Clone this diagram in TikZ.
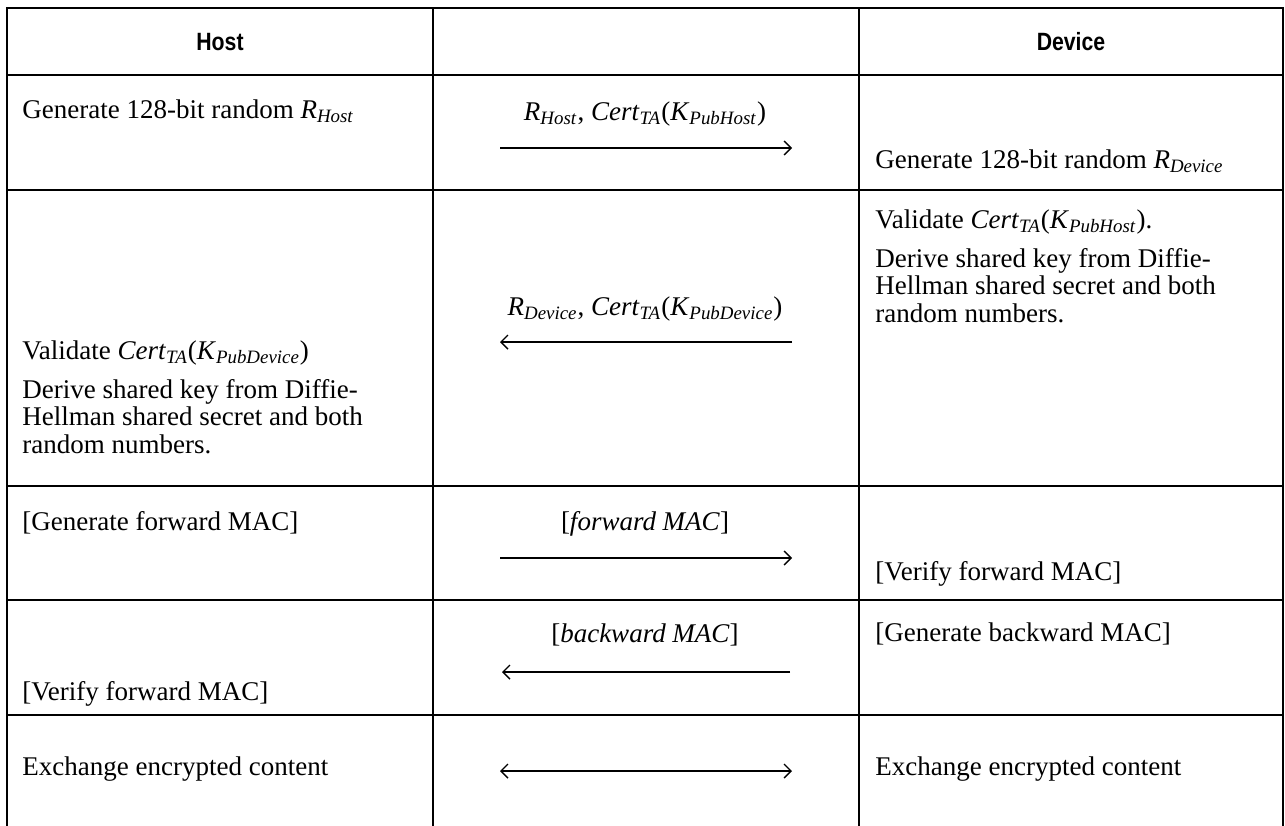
\documentclass[tikz,border=0pt]{standalone}
\usepackage{fontspec}
\setmainfont{Liberation Serif}
\newfontfamily\headfont{Liberation Sans}[FakeStretch=0.85]
\usetikzlibrary{arrows.meta}

% italic symbol with italic subscript
\newcommand{\isub}[2]{\textit{#1}\textsubscript{\textit{#2}}}

\begin{document}
\begin{tikzpicture}[
    x=0.5pt, y=-0.5pt,
    >={Straight Barb[length=3.5pt,width=7pt]},
    rule/.style={line width=1pt, line cap=rect},
    arr/.style={->, line width=0.7pt},
    head/.style={font=\headfont\bfseries\fontsize{12.5pt}{14pt}\selectfont, inner sep=0pt},
    cell/.style={anchor=base west, align=left, inner sep=0pt,
      font=\fontsize{13.5pt}{13.75pt}\selectfont},
    lbl/.style={anchor=base, inner sep=0pt,
      font=\fontsize{13.5pt}{13.75pt}\selectfont}
  ]
  \useasboundingbox (0,0) rectangle (1285,825);

  % table rules (open at the bottom)
  \foreach \y in {8,75,190,486,600,715}
    \draw[rule] (7,\y) -- (1283,\y);
  \foreach \x in {7,433,859,1283}
    \draw[rule] (\x,8) -- (\x,825);

  % header
  \node[head] (hhost) at (220,42) {Host};
  \node[head] (hdev) at (1071,42) {Device};

  % nonces and certificates
  \node[cell] (rhost) at (22,118) {Generate 128-bit random \isub{R}{Host}};
  \node[lbl] (m1) at (645,120) {\isub{R}{Host}, \isub{Cert}{TA}(\isub{K}{PubHost})};
  \node[cell] (rdev) at (875,168) {Generate 128-bit random \isub{R}{Device}};
  \coordinate (a1w) at (500,148);
  \coordinate (a1e) at (792,148);
  \draw[arr] (a1w) -- (a1e);

  % multi-line cells sit on the baseline of their last line
  \node[cell] (vdev) at (875,322) {Validate \isub{Cert}{TA}(\isub{K}{PubHost}).\\[5.75pt]
    Derive shared key from Diffie-\\Hellman shared secret and both\\random numbers.};
  \node[lbl] (m2) at (645,315) {\isub{R}{Device}, \isub{Cert}{TA}(\isub{K}{PubDevice})};
  \node[cell] (vhost) at (22,453) {Validate \isub{Cert}{TA}(\isub{K}{PubDevice})\\[5.75pt]
    Derive shared key from Diffie-\\Hellman shared secret and both\\random numbers.};
  \coordinate (a2w) at (500,342);
  \coordinate (a2e) at (792,342);
  \draw[arr] (a2e) -- (a2w);

  % key confirmation
  \node[cell] (gfwd) at (22,530) {[Generate forward MAC]};
  \node[lbl] (m3) at (645,530) {[\textit{forward MAC}]};
  \node[cell] (vfwd) at (875,580) {[Verify forward MAC]};
  \coordinate (a3w) at (500,558);
  \coordinate (a3e) at (792,558);
  \draw[arr] (a3w) -- (a3e);

  \node[cell] (gbwd) at (875,641) {[Generate backward MAC]};
  \node[lbl] (m4) at (645,642) {[\textit{backward MAC}]};
  \node[cell] (vbwd) at (22,700) {[Verify forward MAC]};
  \coordinate (a4w) at (502,672);
  \coordinate (a4e) at (790,672);
  \draw[arr] (a4e) -- (a4w);

  % session
  \node[cell] (xhost) at (22,775) {Exchange encrypted content};
  \node[cell] (xdev) at (875,775) {Exchange encrypted content};
  \coordinate (a5w) at (500,771);
  \coordinate (a5e) at (792,771);
  \draw[arr, <->] (a5w) -- (a5e);
\end{tikzpicture}
\end{document}
